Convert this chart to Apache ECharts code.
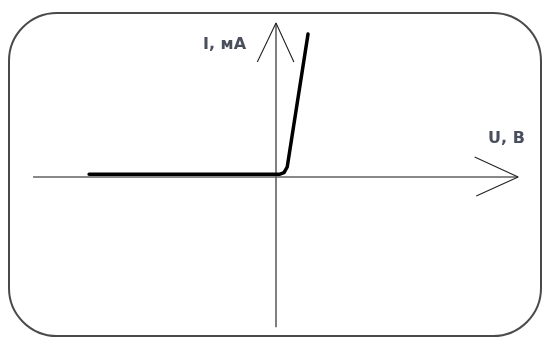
<!DOCTYPE html>
<html>
<head>
<meta charset="utf-8">
<script src="https://cdn.jsdelivr.net/npm/echarts@6/dist/echarts.min.js"></script>
<style>
  html, body { margin: 0; padding: 0; background: #fff; }
  #chart { width: 543px; height: 338px; }
</style>
</head>
<body>
<div id="chart"></div>
<script>
// Diode current–voltage characteristic (schematic), U in V, I in mA
const diodeU = [-7, 0.15, 0.3, 0.42, 1.2];
const diodeI = [0.2, 0.2, 0.3, 0.7, 10];

// Coordinate axes drawn as lines, with open arrowheads
const uAxisU = [-9.1, 9.07];
const uAxisI = [0, 0];
const iAxisU = [0, 0];
const iAxisI = [-10.5, 10.77];
const uArrowU = [7.44, 9.07, 7.5];
const uArrowI = [1.4, 0, -1.33];
const iArrowU = [-0.7, 0, 0.67];
const iArrowI = [8.04, 10.77, 8.04];

const axisLabels = ['I, мА', 'U, В'];

const zip = (a, b) => a.map((v, i) => [v, b[i]]);

const chart = echarts.init(document.getElementById('chart'), null, { renderer: 'canvas' });

const PX_U = 27;    // pixels per volt
const PX_I = 14.3;  // pixels per mA
const U_MIN = -10, U_MAX = 10;
const I_MIN = -11, I_MAX = 12;
const ORIGIN_X = 279, ORIGIN_Y = 177;

chart.setOption({
  animation: false,
  backgroundColor: '#ffffff',
  grid: {
    left: ORIGIN_X + U_MIN * PX_U,
    top: ORIGIN_Y - I_MAX * PX_I,
    width: (U_MAX - U_MIN) * PX_U,
    height: (I_MAX - I_MIN) * PX_I
  },
  xAxis: { type: 'value', min: U_MIN, max: U_MAX, show: false },
  yAxis: { type: 'value', min: I_MIN, max: I_MAX, show: false },
  graphic: [
    {
      type: 'rect',
      shape: { x: 9, y: 13, width: 532, height: 323, r: 48 },
      style: { fill: 'none', stroke: '#4a4a4a', lineWidth: 2 },
      z: 1
    },
    {
      type: 'text',
      left: 203, top: 37,
      style: { text: axisLabels[0], font: 'bold 16px "DejaVu Sans", sans-serif', fill: '#4a4f5e' },
      z: 10
    },
    {
      type: 'text',
      left: 488, top: 131,
      style: { text: axisLabels[1], font: 'bold 16px "DejaVu Sans", sans-serif', fill: '#4a4f5e' },
      z: 10
    }
  ],
  series: [
    {
      type: 'line', data: zip(uAxisU, uAxisI), symbol: 'none', silent: true,
      lineStyle: { color: '#606060', width: 1.6 }, z: 2
    },
    {
      type: 'line', data: zip(iAxisU, iAxisI), symbol: 'none', silent: true,
      lineStyle: { color: '#606060', width: 1.6 }, z: 2
    },
    {
      type: 'line', data: zip(uArrowU, uArrowI), symbol: 'none', silent: true,
      lineStyle: { color: '#222', width: 1.1 }, z: 3
    },
    {
      type: 'line', data: zip(iArrowU, iArrowI), symbol: 'none', silent: true,
      lineStyle: { color: '#222', width: 1.1 }, z: 3
    },
    {
      type: 'line', data: zip(diodeU, diodeI), symbol: 'none', silent: true,
      lineStyle: { color: '#000', width: 3.5, cap: 'round', join: 'round' }, z: 4
    }
  ]
});
</script>
</body>
</html>
